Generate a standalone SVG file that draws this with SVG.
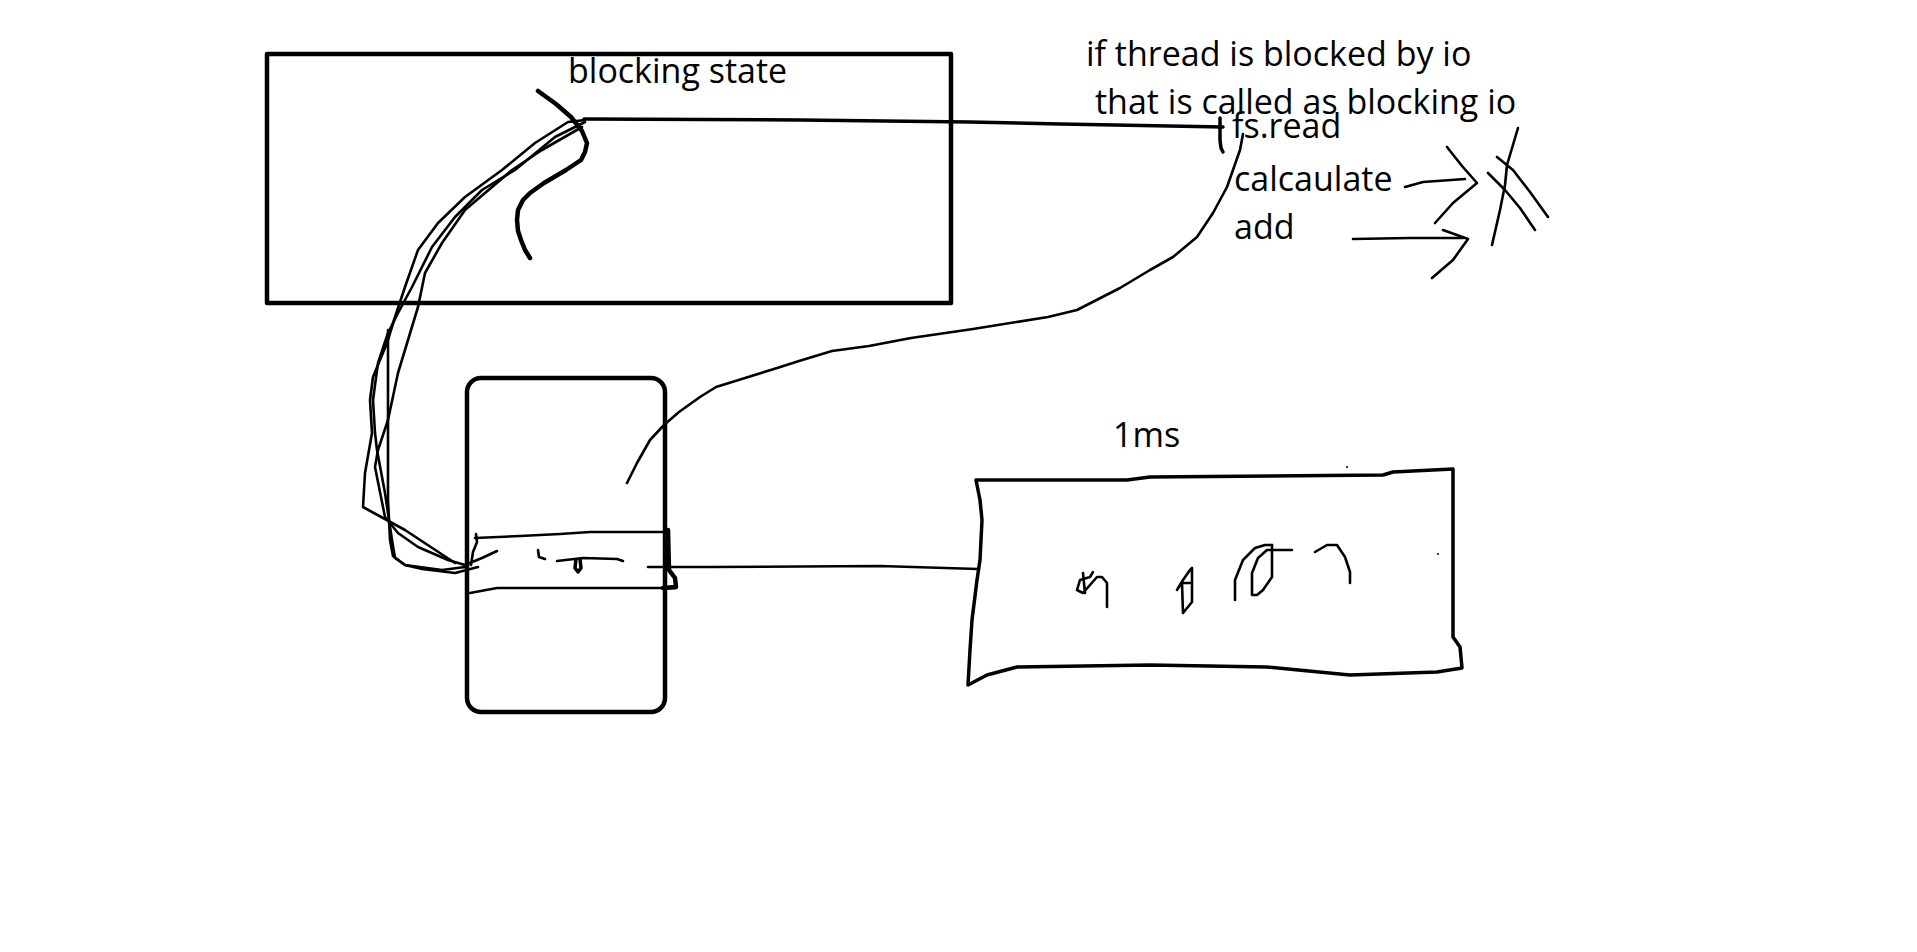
<svg xmlns="http://www.w3.org/2000/svg" width="1917" height="952" viewBox="0 0 1917 952">
<style>
.txt{font-family:"Open Sans","Noto Sans","Liberation Sans",sans-serif;font-size:34px;fill:#000}
.thick{fill:none;stroke:#000;stroke-width:4.5;stroke-linejoin:round;stroke-linecap:round}
.med{fill:none;stroke:#000;stroke-width:3.5;stroke-linejoin:round;stroke-linecap:round}
.thin{fill:none;stroke:#000;stroke-width:2.6;stroke-linejoin:round;stroke-linecap:round}
</style>
<rect x="0" y="0" width="1917" height="952" fill="#fff"/>

<g id="blocking-state-box">
  <rect x="267" y="54" width="684" height="249" class="thick" stroke-linejoin="miter"/>
  <text class="txt" x="568" y="83">blocking state</text>
  <polyline class="thick" points="538,91 556,104 571,117 582,131 587,143 585,152 581,160 566,170 544,183 530,193 523,200 518,210 517,220 518,231 521,240 525,250 530,258"/>
</g>

<g id="note-text">
  <text class="txt" x="1086" y="66">if thread is blocked by io</text>
  <text class="txt" x="1095" y="114">that is called as blocking io</text>
</g>

<g id="task-list">
  <text class="txt" x="1232" y="138">fs.read</text>
  <text class="txt" x="1234" y="191">calcaulate</text>
  <text class="txt" x="1234" y="239">add</text>
  <polyline class="med" points="1220,118 1220,140 1221,148 1223,152"/>
  <polyline class="thin" points="1405,187 1423,182 1465,179"/>
  <polyline class="thin" points="1447,147 1462,166 1477,183 1453,203 1435,223"/>
  <polyline class="thin" points="1353,239 1410,238 1463,238"/>
  <polyline class="thin" points="1443,230 1468,239 1453,260 1432,278"/>
  <polyline class="thin" points="1518,128 1507,165 1505,185 1500,210 1492,245"/>
  <polyline class="thin" points="1497,157 1513,170 1530,192 1548,217"/>
  <polyline class="thin" points="1488,173 1505,190 1520,208 1535,230"/>
</g>

<g id="thread-box">
  <rect x="467" y="378" width="198" height="334" rx="14" ry="14" class="thick"/>
  <polyline class="thin" points="475,538 520,536 560,534 590,532 665,532"/>
  <polyline class="thick" points="668,530 669,570 675,578 676,587 663,588"/>
  <polyline class="thin" points="470,593 497,588 560,588 675,588"/>
  <polyline class="thin" points="476,534 477,542 473,552 471,565"/>
  <polyline class="thin" points="538,550 539,557 545,559"/>
  <polyline class="thin" points="557,561 583,558 617,559 623,561"/>
  <path d="M576,559 L575,568 L578,572 L581,568 L580,559" fill="none" stroke="#000" stroke-width="3.5" stroke-linejoin="round"/>
</g>

<g id="timeline-box">
  <text class="txt" x="1113" y="447">1ms</text>
  <polyline class="med" points="976,480 1127,480 1150,477 1383,475 1393,472 1453,469 1453,637 1460,647 1462,668 1437,672 1350,675 1267,667 1150,665 1017,667 987,675 968,685 970,650 972,620 977,580 980,560 982,520 980,500 976,480"/>
  <circle cx="1347" cy="467" r="1" fill="#000"/>
  <circle cx="1438" cy="554" r="1" fill="#000"/>
  <polyline class="thin" points="1093,572 1090,577 1080,580 1077,590 1083,593 1090,585 1097,577 1102,577 1107,583 1107,607"/>
  <polyline class="thin" points="1083,573 1085,593"/>
  <polyline class="thin" points="1177,590 1183,580 1190,570 1192,568 1192,602 1183,613 1182,583 1190,583"/>
  <polyline class="thin" points="1235,600 1235,580 1243,560 1255,548 1265,545 1272,545"/>
  <polyline class="thin" points="1272,545 1272,577 1263,590 1257,595 1252,595 1252,573 1258,558 1267,550 1292,550"/>
  <polyline class="thin" points="1315,552 1327,545 1337,545 1345,557 1350,572 1350,583"/>
</g>

<g id="connectors">
  <polyline class="med" points="584,119 800,120 970,122 1060,124 1223,127"/>
  <polyline class="thin" points="1243,134 1240,150 1227,187 1213,213 1197,237 1173,257 1150,270 1120,288 1077,310 1048,317 973,329 911,338 869,346 832,351 799,361 774,369 716,387 700,397 679,412 664,425 650,440 637,463 627,483"/>
  <polyline class="thin" points="585,120 568,122 535,143 502,170 465,197 438,223 418,250 405,287 395,317 387,343 373,377 370,400 372,433 365,473 363,507 405,530 455,563"/>
  <polyline class="thin" points="585,122 555,137 515,170 482,190 455,217 432,247 412,287 398,313 388,333 378,363 373,400 375,433 377,450 385,493 392,540 395,558 405,565 422,569 455,573 478,567"/>
  <polyline class="thin" points="582,127 542,150 512,170 465,210 442,243 425,273 418,307 408,340 398,373 388,420 378,450 375,467 385,517 398,533 418,547 448,560 465,565 482,558 497,551"/>
  <polyline class="thin" points="388,330 388,500 390,540 393,556 405,565 442,570 465,567"/>
  <polyline class="thin" points="648,567 710,567 880,566 978,569"/>
</g>
</svg>
